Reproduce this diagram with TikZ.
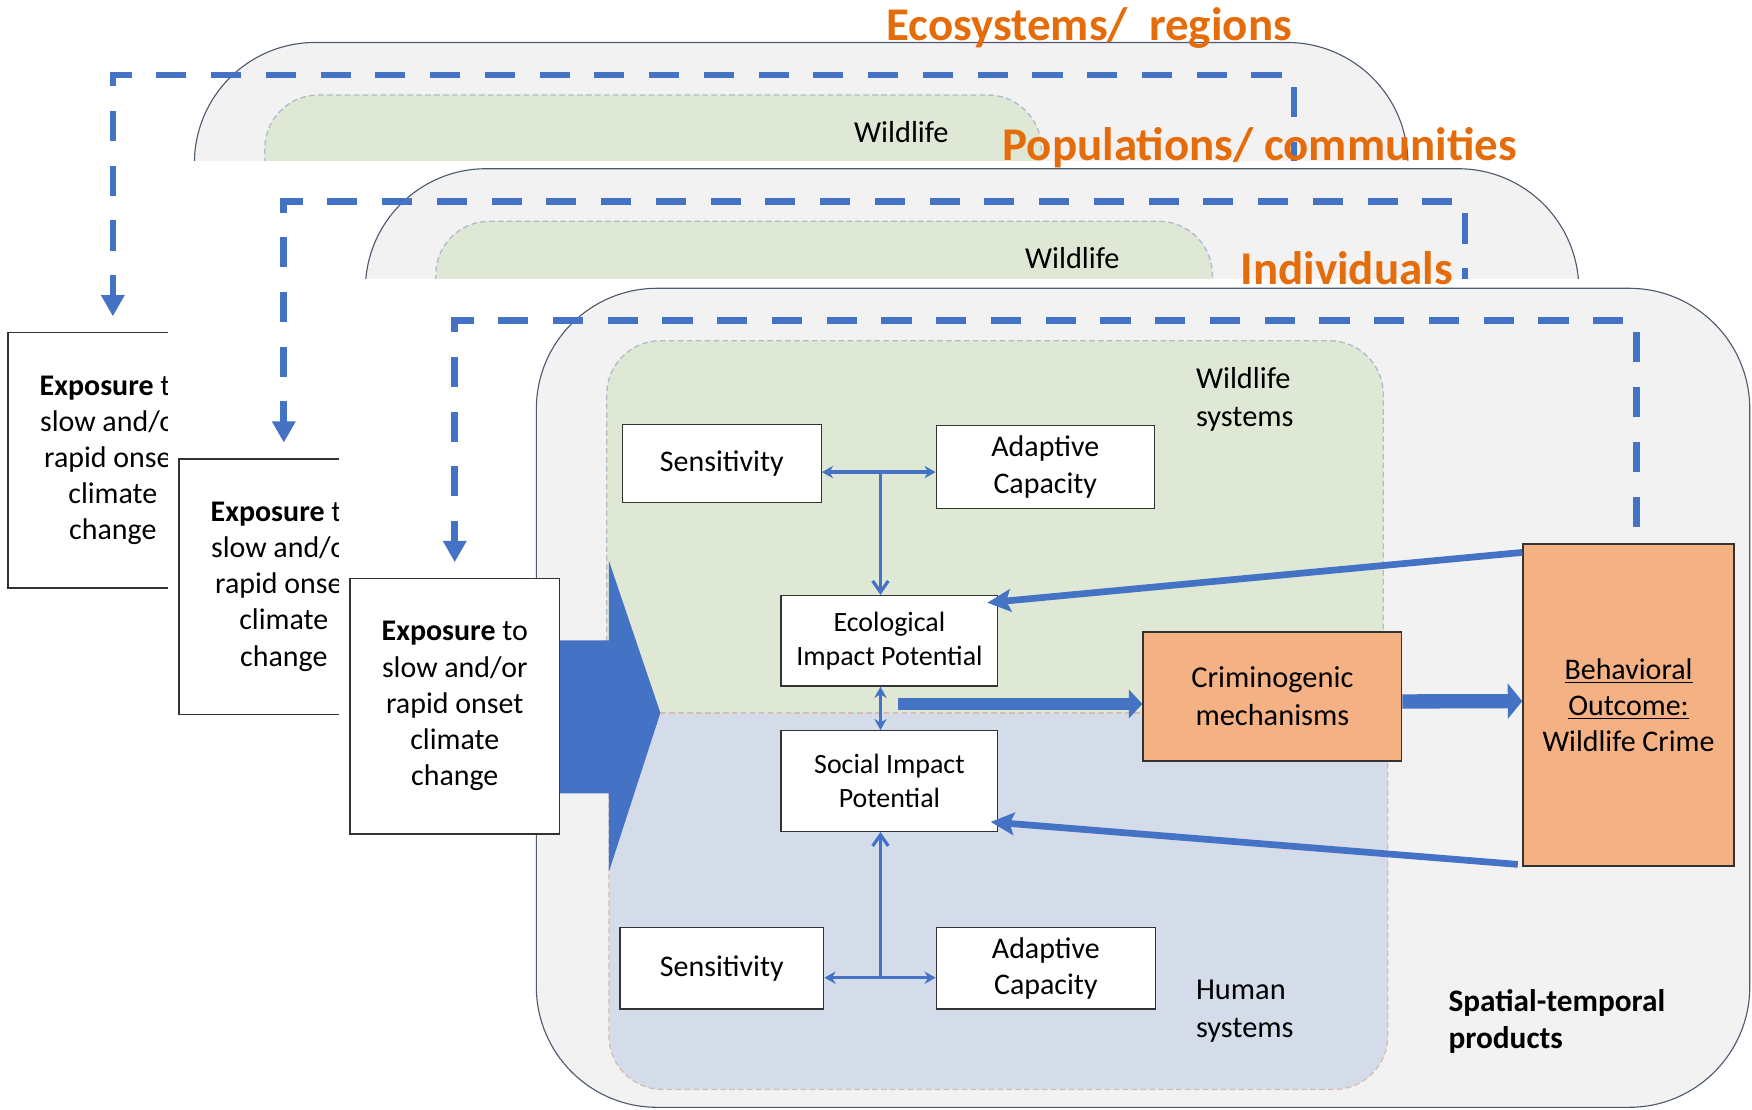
\documentclass[tikz,border=0pt]{standalone}
\usepackage{fontspec}
\setmainfont{Carlito}
\usepackage{tikz}
\usetikzlibrary{arrows.meta,calc}
\definecolor{arrowblue}{HTML}{4472C4}
\definecolor{panelgray}{HTML}{F2F2F2}
\definecolor{paneledge}{HTML}{4D5A6E}
\definecolor{wildgreen}{HTML}{DEE8D5}
\definecolor{wildedge}{HTML}{AEBCCB}
\definecolor{humanblue}{HTML}{D4DCEA}
\definecolor{humanedge}{HTML}{D6BDB3}
\definecolor{crimeorange}{HTML}{F4B183}
\definecolor{tierorange}{HTML}{E46C0A}
\newcommand\boxfont{\fontsize{13.4}{16.2}\selectfont}
\newcommand\impactfont{\fontsize{12.5}{15.3}\selectfont}
\tikzset{>=stealth,
  panel/.style={fill=panelgray,draw=paneledge,line width=0.5pt,rounded corners=54pt},
  wildzone/.style={fill=wildgreen,draw=wildedge,line width=0.6pt,dash pattern=on 2.5pt off 1.5pt,rounded corners=24pt},
  humanzone/.style={fill=humanblue,draw=humanedge,line width=0.6pt,dash pattern=on 2.5pt off 1.5pt,rounded corners=24pt},
  plainbox/.style={draw=black!80,fill=white,line width=0.6pt,inner sep=0pt,align=center,font=\boxfont},
  crimebox/.style={plainbox,fill=crimeorange},
  zonelabel/.style={anchor=north west,align=left,inner sep=0pt,font=\fontsize{13.6}{17}\selectfont},
  tierlabel/.style={anchor=base west,inner sep=0pt,text=tierorange,font=\fontsize{21}{25}\selectfont\bfseries},
  link/.style={draw=arrowblue,line width=1.45pt},
  twoway/.style={link,{Stealth[length=5pt,width=5.5pt]}-{Stealth[length=5pt,width=5.5pt]}},
  feedin/.style={link,-{Straight Barb[length=5pt,width=7pt]}},
  thickflow/.style={draw=arrowblue,line width=5.5pt,-{Triangle[length=6pt,width=12.5pt]}},
  rebound/.style={draw=arrowblue,line width=3pt,-{Stealth[length=10.5pt,width=10pt,inset=2pt]}},
  loopback/.style={draw=arrowblue,line width=3pt,dash pattern=on 13.5pt off 11pt,-{Triangle[length=9.5pt,width=10pt]}}
}

\begin{document}
\begin{tikzpicture}[x=0.5pt,y=-0.5pt]
\useasboundingbox (0,0) rectangle (1568,993);

\begin{scope}[shift={(-306,-220)}]
  \draw[panel] (480,258) rectangle (1566,991);
  \path[wildzone] (543,638) -- (543,305) -- (1238,305) -- (1238,638);
  \node[zonelabel] (wild3) at (1070,328) {Wildlife};
  \node[plainbox,minimum width=93.8pt,minimum height=114.3pt] (expo3) at (407,632)
     {\textbf{Exposure} to\\slow and/or\\rapid onset\\climate\\change};
  \coordinate (out3) at (1464,472);
  \draw[loopback] (out3) |- ($(expo3.north)+(0,-230)$) -- ($(expo3.north)+(0,-14)$);
\end{scope}
\fill[white] (150,144) rectangle (1568,993);

\begin{scope}[shift={(-153,-107)}]
  \draw[panel] (480,258) rectangle (1566,991);
  \path[wildzone] (543,638) -- (543,305) -- (1238,305) -- (1238,638);
  \node[zonelabel] (wild2) at (1070,328) {Wildlife};
  \node[plainbox,minimum width=93.8pt,minimum height=114.3pt] (expo2) at (407,632)
     {\textbf{Exposure} to\\slow and/or\\rapid onset\\climate\\change};
  \coordinate (out2) at (1464,472);
  \draw[loopback] (out2) |- ($(expo2.north)+(0,-230)$) -- ($(expo2.north)+(0,-14)$);
\end{scope}
\fill[white] (303,250) rectangle (1568,993);

\draw[panel] (480,258) rectangle (1566,991);
\path[wildzone] (543,638) -- (543,305) -- (1238,305) -- (1238,638);
\path[humanzone] (545,638) -- (545,975) -- (1242,975) -- (1242,638);
\draw[humanedge,line width=0.6pt,dash pattern=on 2.5pt off 1.5pt] (543,638) -- (1242,638);
\node[zonelabel] (wild) at (1070,328) {Wildlife\\systems};
\node[zonelabel] (human) at (1070,877) {Human\\systems};
\node[zonelabel,font=\fontsize{14}{16.8}\selectfont\bfseries] (spatial) at (1296,885) {Spatial-temporal\\products};

\node[plainbox,minimum width=93.8pt,minimum height=114.3pt] (expo) at (407,632)
   {\textbf{Exposure} to\\slow and/or\\rapid onset\\climate\\change};
\fill[arrowblue] (501,573) -- (545,573) -- (545,502) -- (591,638) -- (545,780) -- (545,710) -- (501,710) -- cycle;

\node[plainbox,minimum width=89pt,minimum height=35pt] (sens) at (646,415) {Sensitivity};
\node[plainbox,minimum width=97.5pt,minimum height=37pt] (adapt) at (935.5,418) {Adaptive\\Capacity};
\node[plainbox,minimum width=97pt,minimum height=40.5pt,font=\impactfont] (eco) at (796,573.5) {Ecological\\Impact Potential};
\node[plainbox,minimum width=97pt,minimum height=45pt,font=\impactfont] (social) at (796,699) {Social Impact\\Potential};
\node[plainbox,minimum width=91.25pt,minimum height=36.5pt] (hsens) at (646,866.5) {Sensitivity};
\node[plainbox,minimum width=98pt,minimum height=36.5pt] (hadapt) at (936,866.5) {Adaptive\\Capacity};
\node[crimebox,minimum width=115.75pt,minimum height=57.75pt,font=\fontsize{13.6}{17}\selectfont] (mech) at (1138.75,623.25) {Criminogenic\\mechanisms};
\node[crimebox,minimum width=94.5pt,minimum height=144pt] (crime) at (1457.5,631) {\underline{Behavioral}\\\underline{Outcome:}\\Wildlife Crime};

\coordinate (wj) at (788,422.5);
\draw[twoway] (sens.east |- wj) -- (adapt.west |- wj);
\draw[feedin] (wj) -- (wj |- eco.north);
\draw[twoway] (eco.south -| wj) -- (social.north -| wj);
\coordinate (hj) at (788,875);
\draw[twoway] (hsens.east |- hj) -- (hadapt.west |- hj);
\draw[feedin] (hj) -- (hj |- social.south);

\coordinate (mix) at (804,630);
\draw[thickflow] (mix) -- (mix -| mech.west);
\draw[thickflow,line width=6.4pt,-{Triangle[length=6.5pt,width=15.5pt]}] ($(mech.east)+(0,4.5)$) -- ($(crime.west)+(0,-3.5)$);
\draw[rebound] ($(crime.north west)+(0,8)$) -- ($(eco.north east)+(-10,7)$);
\draw[rebound] ($(crime.south west)+(-4,-2)$) -- ($(social.south east)+(-7,-9)$);
\draw[loopback] ($(crime.north)+(7,-15)$) |- ($(expo.north)+(0,-230)$) -- ($(expo.north)+(0,-14)$);

\node[tierlabel] (ecotier) at (793,36) {Ecosystems/~ regions};
\node[tierlabel] (poptier) at (897,144) {Populations/ communities};
\node[tierlabel] (indtier) at (1110,255) {Individuals};
\end{tikzpicture}
\end{document}
